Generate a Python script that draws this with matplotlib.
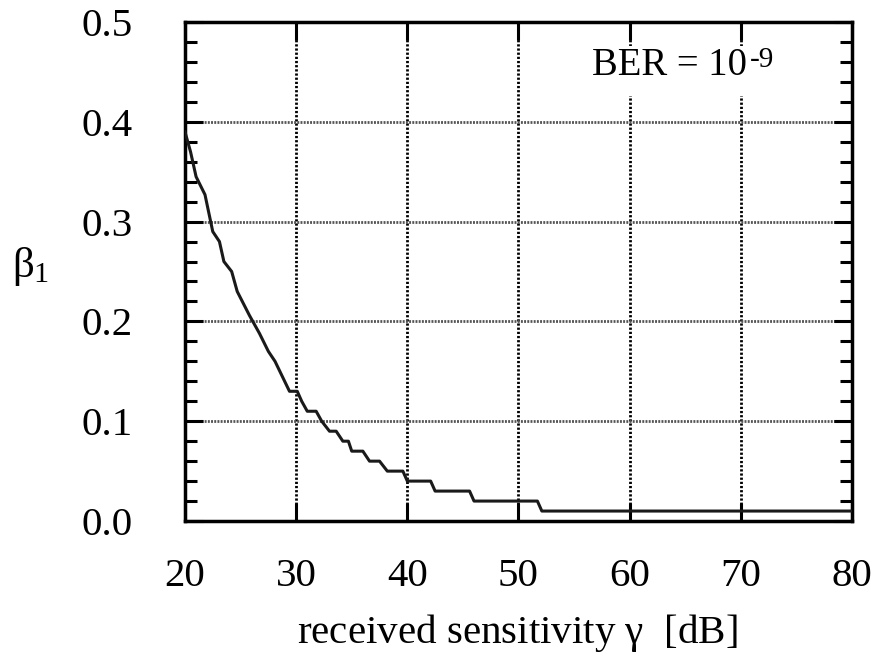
import matplotlib
matplotlib.use('Agg')
import matplotlib.pyplot as plt
from matplotlib.patches import Rectangle
from matplotlib.ticker import MultipleLocator

# --- data ---
gamma_db = [20, 20.5, 21, 21.8, 22.5, 23.1, 23.5, 24.2, 24.7, 25.8, 26.7, 27.5, 28.1,
            29.4, 30.1, 30.5, 31.0, 31.8, 32.3, 33.0, 33.6, 34.2, 34.7, 35.0, 36.0,
            36.6, 37.5, 38.2, 39.6, 40.0, 42.1, 42.5, 45.6, 46.0, 51.7, 52.1, 80]
beta1 = [0.39, 0.37, 0.345, 0.327, 0.29, 0.28, 0.26, 0.25, 0.23, 0.206, 0.188, 0.17, 0.16,
         0.13, 0.13, 0.12, 0.11, 0.11, 0.10, 0.09, 0.09, 0.08, 0.08, 0.07, 0.07,
         0.06, 0.06, 0.05, 0.05, 0.04, 0.04, 0.03, 0.03, 0.02, 0.02, 0.01, 0.01]
x_ticks = [20, 30, 40, 50, 60, 70, 80]
y_ticks = [0.0, 0.1, 0.2, 0.3, 0.4, 0.5]

plt.rcParams['font.family'] = ['Liberation Serif', 'DejaVu Serif']
plt.rcParams['mathtext.fontset'] = 'custom'
plt.rcParams['mathtext.rm'] = 'Liberation Serif'
plt.rcParams['mathtext.it'] = 'Liberation Serif'

W, H = 880, 653
fig = plt.figure(figsize=(8.8, 6.53), dpi=100)
ax = fig.add_axes([0.2102, 0.2021, 0.7580, 0.7642])

ax.plot(gamma_db, beta1, color='#1a1a1a', lw=2.2, zorder=3)

ax.set_xlim(20, 80)
ax.set_ylim(0, 0.5)
ax.set_xticks(x_ticks)
ax.set_xticklabels([str(v) for v in x_ticks])
ax.set_yticks(y_ticks)
ax.set_yticklabels(['%.1f' % v for v in y_ticks])
ax.yaxis.set_minor_locator(MultipleLocator(0.02))

# grid: vertical black dotted, horizontal grey stipple
for xv in x_ticks[1:-1]:
    ax.axvline(xv, color='black', lw=2.0, ls=(0, (0.8, 0.7)), zorder=0)
for yv in y_ticks[1:-1]:
    ax.axhline(yv, color='#555555', lw=2.0, ls=(0, (0.7, 0.45)), zorder=0)

# white box behind the BER label hides the grid there
ax.add_patch(Rectangle((0.60, 0.851), 0.30, 0.1004, transform=ax.transAxes,
                       facecolor='white', edgecolor='none', zorder=1))

for s in ax.spines.values():
    s.set_linewidth(2.5)
ax.tick_params(which='major', direction='in', length=13, width=2.2,
               top=True, right=True, labelsize=29.5)
ax.tick_params(which='minor', direction='in', length=8.6, width=2.2,
               top=True, right=True)
ax.tick_params(axis='x', pad=26.5)
ax.tick_params(axis='y', pad=37.5)

fig.text(0.588, 1 - 643 / H, r'received sensitivity $\gamma$  [dB]',
         fontsize=29.5, ha='center', va='baseline')
fig.text(31 / W, 1 - 266 / H, r'$\beta_1$', fontsize=31, ha='center', va='center')

# annotation BER = 10^-9
fig.text(592 / W, 1 - 75 / H, 'BER = 10', fontsize=27.8, ha='left', va='baseline')
fig.text(750 / W, 1 - 67 / H, '-9', fontsize=21, ha='left', va='baseline')

fig.savefig('out.png', dpi=100)
